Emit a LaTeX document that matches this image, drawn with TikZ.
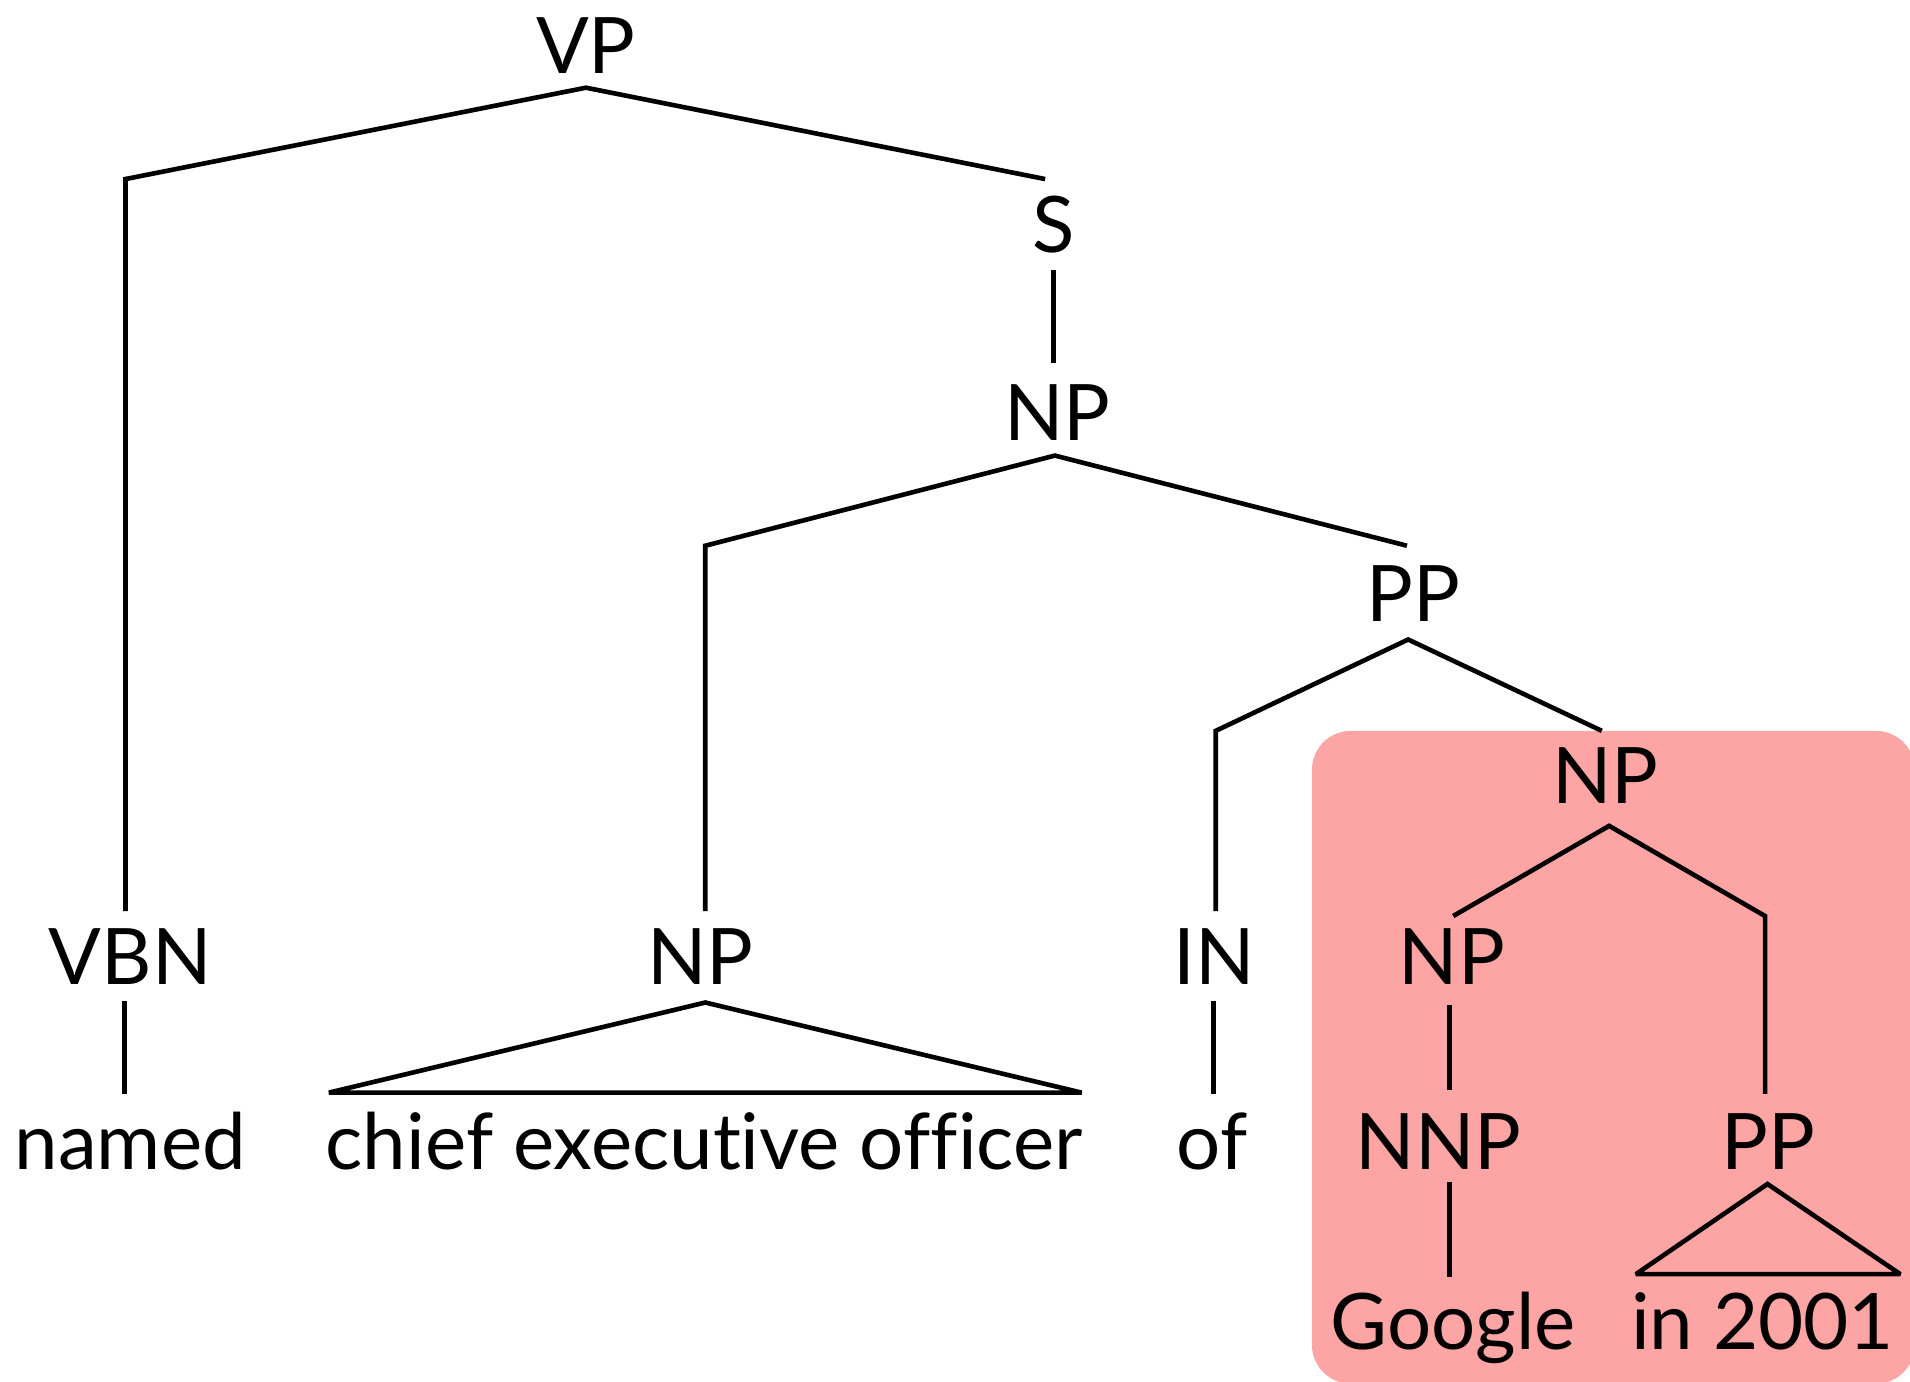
\documentclass[tikz,border=0pt]{standalone}
\usepackage{fontspec}
\setmainfont[Ligatures=NoCommon]{Lato}
\definecolor{hl}{HTML}{FCA5A4}
\begin{document}
\begin{tikzpicture}[x=1pt,y=1pt,
  lbl/.style={anchor=base,inner sep=0pt,font=\fontsize{64}{70}\selectfont},
  br/.style={line width=3.8pt,line join=miter,miter limit=2}]
\useasboundingbox (0,0) rectangle (1568,-1134);
% highlight box
\fill[hl,rounded corners=32pt] (1077,-600) rectangle (1572,-1136);
% labels
\node[lbl] (vp) at (481,-60) {VP};
\node[lbl] (s) at (865,-207) {S};
\node[lbl] (np1) at (868,-362) {NP};
\node[lbl] (pp1) at (1160,-510) {PP};
\node[lbl] (np2) at (1318,-660) {NP};
\node[lbl] (vbn) at (107,-808) {VBN};
\node[lbl] (np3) at (575,-808) {NP};
\node[lbl] (in) at (997,-808) {IN};
\node[lbl] (np4) at (1192,-808) {NP};
\node[lbl] (named) at (107,-960) {named};
\node[lbl] (ceo) at (578,-960) {chief executive officer};
\node[lbl] (of) at (995,-960) {of};
\node[lbl] (nnp) at (1181,-960) {NNP};
\node[lbl] (pp2) at (1452,-960) {PP};
\node[lbl] (google) at (1193,-1108) {Google};
\node[lbl] (in2001) at (1447,-1108) {in 2001};
% coordinates
\coordinate (vpA) at (481,-72);
\coordinate (vpL) at (103,-147);
\coordinate (vpR) at (858,-147);
\coordinate (vbnT) at (103,-748);
\coordinate (sB) at (865,-222);
\coordinate (np1T) at (865,-298);
\coordinate (np1A) at (866,-374);
\coordinate (np1L) at (579,-448);
\coordinate (np3T) at (579,-748);
\coordinate (np1R) at (1155,-448);
\coordinate (pp1A) at (1156,-525);
\coordinate (pp1L) at (998,-600);
\coordinate (inT) at (998,-748);
\coordinate (pp1R) at (1315,-600);
\coordinate (np2A) at (1321,-678);
\coordinate (np2L) at (1193,-752);
\coordinate (np2R) at (1449,-752);
\coordinate (pp2T) at (1449,-898);
\coordinate (vbnB) at (102,-822);
\coordinate (namedT) at (102,-898);
\coordinate (inB) at (996,-822);
\coordinate (ofT) at (996,-898);
\coordinate (np4B) at (1190,-825);
\coordinate (nnpT) at (1190,-895);
\coordinate (nnpB) at (1190,-970);
\coordinate (googleT) at (1190,-1048);
\coordinate (np3A) at (579,-823);
\coordinate (ceoL) at (270,-897);
\coordinate (ceoR) at (888,-897);
\coordinate (pp2A) at (1451,-972);
\coordinate (inL) at (1343,-1046);
\coordinate (inR) at (1560,-1046);
% branches
\draw[br] (vbnT) -- (vpL) -- (vpA) -- (vpR);
\draw[br] (sB) -- (np1T);
\draw[br] (np3T) -- (np1L) -- (np1A) -- (np1R);
\draw[br] (inT) -- (pp1L) -- (pp1A) -- (pp1R);
\draw[br] (np2L) -- (np2A) -- (np2R) -- (pp2T);
\draw[br] (vbnB) -- (namedT);
\draw[br] (inB) -- (ofT);
\draw[br] (np4B) -- (nnpT);
\draw[br] (nnpB) -- (googleT);
\draw[br] (np3A) -- (ceoL) -- (ceoR) -- cycle;
\draw[br] (pp2A) -- (inL) -- (inR) -- cycle;
\end{tikzpicture}
\end{document}
